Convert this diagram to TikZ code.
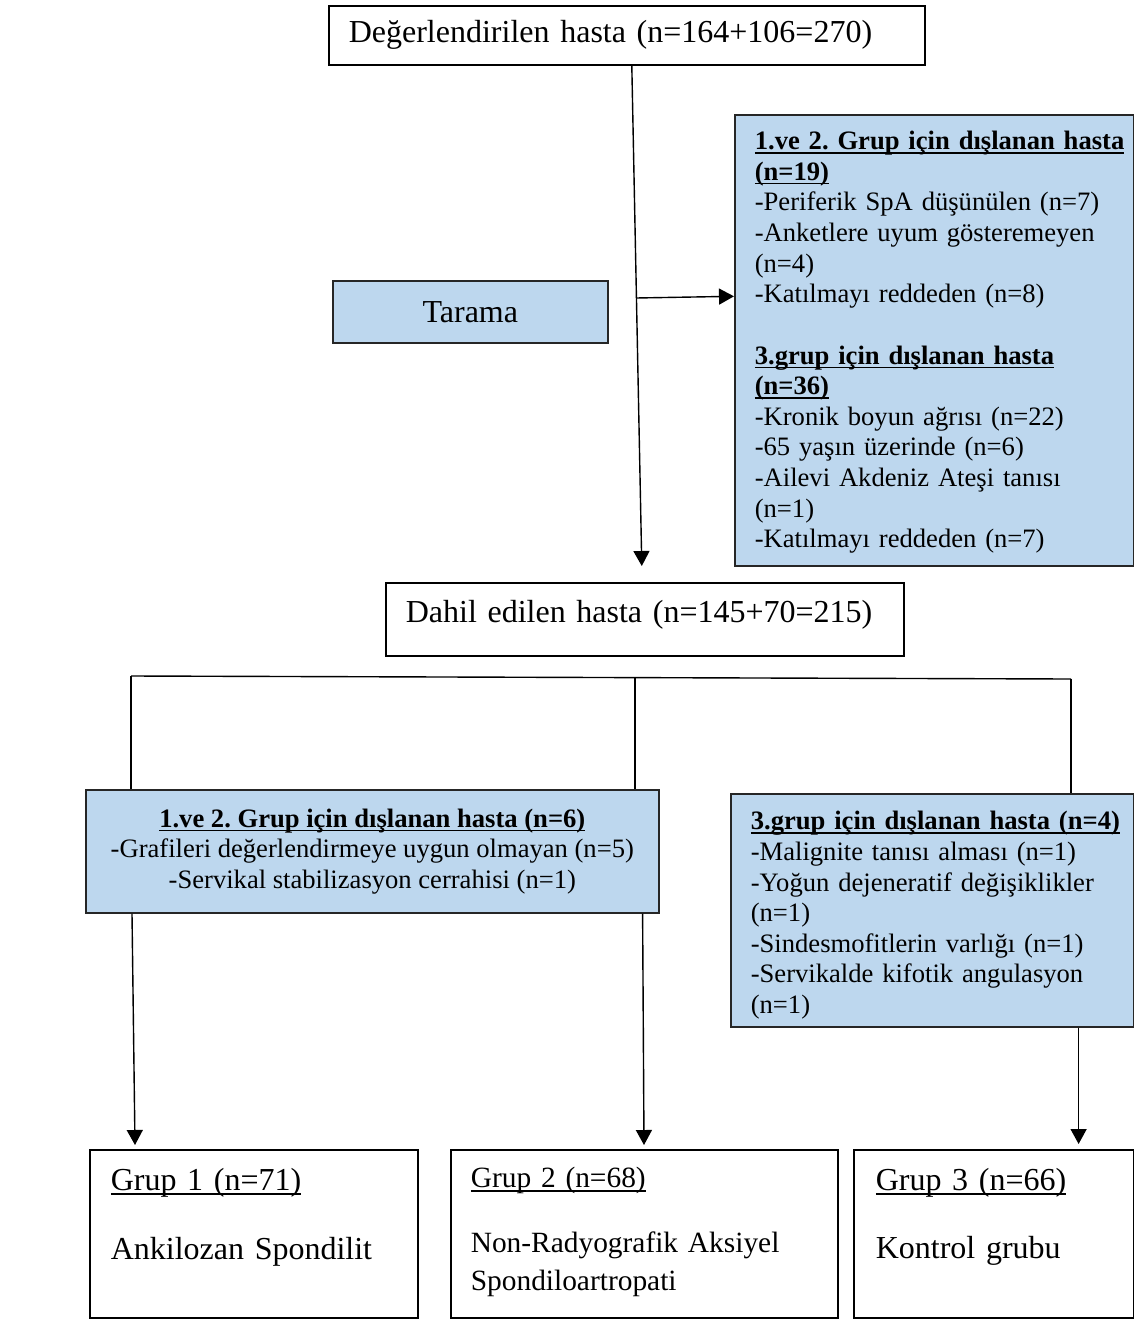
\documentclass[tikz,border=0pt]{standalone}
\usepackage{fontspec}
\setmainfont{Liberation Serif}
\usepackage{tikz}
\usetikzlibrary{arrows.meta,positioning,calc}
\frenchspacing
\definecolor{boxblue}{RGB}{189,215,238}
\newsavebox{\ulbox}
\newcommand{\ulin}[1]{\sbox{\ulbox}{#1}\rlap{\rule[-4pt]{\wd\ulbox}{1.5pt}}\usebox{\ulbox}}
\newcommand{\bigtxt}{\fontsize{32}{36.8}\selectfont}
\newcommand{\smalltxt}{\fontsize{26.6}{30.6}\selectfont}

\begin{document}
\begin{tikzpicture}[
  x=1pt, y=-1pt,
  wbox/.style={draw, line width=1.6pt, fill=white, inner sep=0pt, anchor=north west},
  bbox/.style={draw=black!85, line width=1.6pt, fill=boxblue, inner sep=0pt, anchor=north west},
  arrow/.style={-{Triangle[length=15pt,width=16pt]}, line width=1.4pt},
  link/.style={line width=1.4pt}
]
  \useasboundingbox (0,0) rectangle (1134,1319);

  % Nodes
  \node[wbox, font=\bigtxt, minimum width=596pt, minimum height=59pt, inner xsep=20pt,
    text width=556pt, align=left] (deg) at (328,5) {Değerlendirilen hasta (n=164+106=270)};
  \node[bbox, font=\bigtxt, minimum width=275pt, minimum height=62pt] (tar) at (332,280) {Tarama};
  \node[bbox, font=\smalltxt, inner xsep=20pt, text width=359pt, align=left,
    text height=35pt, text depth=416pt] (exa) at (734,114) {%
    \textbf{\ulin{1.ve 2. Grup için dışlanan hasta}}\\
    \textbf{\ulin{(n=19)}}\\
    -Periferik SpA düşünülen (n=7)\\
    -Anketlere uyum gösteremeyen\\
    (n=4)\\
    -Katılmayı reddeden (n=8)\\[30.6pt]
    \textbf{\ulin{3.grup için dışlanan hasta}}\\
    \textbf{\ulin{(n=36)}}\\
    -Kronik boyun ağrısı (n=22)\\
    -65 yaşın üzerinde (n=6)\\
    -Ailevi Akdeniz Ateşi tanısı\\
    (n=1)\\
    -Katılmayı reddeden (n=7)};
  \node[wbox, font=\bigtxt, inner xsep=20pt, text width=478pt, align=left,
    text height=40pt, text depth=33pt] (dah) at (385,582) {Dahil edilen hasta (n=145+70=215)};
  \node[bbox, font=\smalltxt, minimum width=573pt, minimum height=123pt, align=center] (exl) at (85,789) {%
    \textbf{\ulin{1.ve 2. Grup için dışlanan hasta (n=6)}}\\
    -Grafileri değerlendirmeye uygun olmayan (n=5)\\
    -Servikal stabilizasyon cerrahisi (n=1)};
  \node[bbox, font=\smalltxt, inner xsep=20pt, text width=363pt, align=left,
    text height=36pt, text depth=197pt] (exr) at (730,793) {%
    \textbf{\ulin{3.grup için dışlanan hasta (n=4)}}\\
    -Malignite tanısı alması (n=1)\\
    -Yoğun dejeneratif değişiklikler\\
    (n=1)\\
    -Sindesmofitlerin varlığı (n=1)\\
    -Servikalde kifotik angulasyon\\
    (n=1)};
  \node[wbox, font=\bigtxt, inner xsep=21pt, text width=286pt, align=left,
    text height=41pt, text depth=127pt] (g1) at (89,1149) {\ulin{Grup 1 (n=71)}\\[32.2pt] Ankilozan Spondilit};
  \node[wbox, font=\fontsize{29.4}{38}\selectfont, inner xsep=20pt, text width=347pt, align=left,
    text height=38pt, text depth=130pt] (g2) at (450,1149) {\ulin{Grup 2 (n=68)}\\[27pt] Non-Radyografik Aksiyel\\ Spondiloartropati};
  \node[wbox, font=\bigtxt, inner xsep=22pt, text width=236pt, align=left,
    text height=41pt, text depth=127pt] (g3) at (853,1149) {\ulin{Grup 3 (n=66)}\\[31.2pt] Kontrol grubu};

  % Branch points
  \coordinate (split) at (636,298);
  \coordinate (busL) at (131,676);
  \coordinate (busM) at (635,678);
  \coordinate (busR) at (1071,679);

  % Arrows
  \draw[arrow] ([xshift=5pt]deg.south) -- ([xshift=-3pt, yshift=16pt]dah.north);
  \draw[arrow] (split) -- ([yshift=44pt]exa.west);
  \draw[link] (busL) -- (busR);
  \draw[link] (busL) -- (busL |- exl.north);
  \draw[link] (busM) -- (busM |- exl.north);
  \draw[link] (busR) -- (busR |- exr.north);
  \draw[arrow] ([xshift=47pt]exl.south west) -- ([xshift=46pt, yshift=4pt]g1.north west);
  \draw[arrow] ([xshift=-17pt]exl.south east) -- ([xshift=194pt, yshift=4pt]g2.north west);
  \draw[arrow] ([xshift=-56pt]exr.south east) -- ([xshift=-56pt, yshift=5pt]g3.north east);
\end{tikzpicture}
\end{document}
